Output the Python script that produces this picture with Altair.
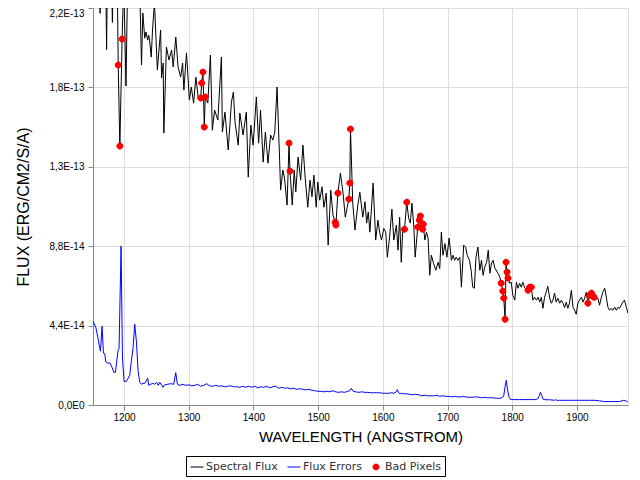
import altair as alt
import pandas as pd

# ---- data (flux values in units of 1e-14) ----
UNIT = 1e-14

FLUX_WL = [1152, 1156, 1162, 1163, 1164, 1167, 1172, 1173, 1174, 1178, 1181, 1182, 1183, 1187,
           1189.5, 1191, 1193.5, 1197, 1199.5, 1203, 1205.5, 1212, 1218, 1224, 1227, 1229, 1232,
           1234, 1236.5, 1238, 1239.5, 1242, 1244, 1247, 1251.5, 1256.5, 1258, 1260.5, 1261.5,
           1265.5, 1269.5, 1273.5, 1276, 1280, 1283.5, 1287.5, 1290.5, 1292.5, 1296.5, 1301,
           1304, 1307.5, 1311, 1314.5, 1318.5, 1320, 1322, 1324, 1325.5, 1329.5, 1333.5, 1336.5,
           1340, 1345, 1350.5, 1352, 1356, 1361, 1366, 1369, 1371.5, 1376.5, 1379, 1384, 1389,
           1392, 1396, 1399.5, 1404.5, 1408, 1411, 1415, 1418.5, 1422.5, 1426.5, 1430, 1433,
           1436.5, 1440.5, 1442, 1445.5, 1448, 1452, 1455, 1456.5, 1460, 1463, 1465.5, 1469,
           1473, 1476.5, 1480, 1484, 1487.5, 1490.5, 1493.5, 1497, 1499.5, 1502.5, 1506, 1509,
           1512.5, 1515.5, 1519.5, 1523, 1526.5, 1527.5, 1530.5, 1534.5, 1538.5, 1542, 1545,
           1547.5, 1549, 1550, 1553.5, 1557, 1561, 1564.5, 1569, 1572.5, 1575, 1577.5, 1580,
           1585, 1589, 1592.5, 1595, 1598, 1601.5, 1604.5, 1607, 1610.5, 1614, 1617, 1621,
           1623.5, 1626, 1628.5, 1631, 1633.5, 1637, 1640, 1642.5, 1645, 1648, 1650, 1654,
           1656.5, 1658, 1661.5, 1662.5, 1665, 1667.5, 1670, 1672.5, 1675, 1678.5, 1682,
           1685.5, 1688, 1690.5, 1693, 1696, 1699, 1702.5, 1706, 1708.5, 1711, 1713.5, 1716,
           1719, 1721.5, 1725, 1728, 1730.5, 1734, 1736.5, 1739, 1741.5, 1744, 1747, 1750,
           1752.5, 1755, 1757.5, 1760.5, 1763, 1765.5, 1768, 1770.5, 1773, 1778, 1780.5, 1783,
           1785.5, 1787, 1789, 1790.5, 1792, 1793.5, 1796, 1798.5, 1801, 1804, 1806.5, 1809,
           1811.5, 1814, 1816.5, 1819, 1822, 1824.5, 1827, 1829.5, 1832, 1834.5, 1837.5, 1840,
           1842.5, 1845, 1847.5, 1850, 1852.5, 1855, 1858, 1860.5, 1863, 1865.5, 1868, 1870.5,
           1873.5, 1876, 1878.5, 1881, 1883.5, 1886, 1888.5, 1891.5, 1894, 1896.5, 1899, 1901.5,
           1904, 1907, 1909.5, 1912, 1914.5, 1917, 1919.5, 1922.5, 1924.5, 1926.5, 1930, 1932.5,
           1935, 1937.5, 1940, 1943, 1945.5, 1948, 1950.5, 1953, 1955.5, 1958.5, 1961, 1963.5,
           1966, 1968.5, 1971, 1973.5, 1976.5, 1978.8]
FLUX_VAL = [23.5, 24.0, 23.0, 21.7, 23.5, 24.0, 23.0, 19.7, 23.0, 24.0, 23.0, 21.2, 23.5, 24.0,
            23.5, 18.84, 14.35, 20.28, 23.5, 17.68, 23.5, 24.5, 24.5, 23.5, 18.84, 21.72, 20.33,
            20.67, 20.22, 20.5, 20.22, 19.28, 20.78, 22.3, 18.56, 20.78, 18.12, 18.95, 15.07,
            19.84, 19.12, 19.67, 18.73, 20.39, 18.73, 18.17, 18.95, 17.45, 19.51, 16.90,
            17.62, 16.73, 18.17, 17.07, 17.01, 17.84, 18.45, 15.40, 17.07, 16.73, 19.39, 15.23,
            16.34, 15.79, 19.28, 15.12, 16.23, 14.13, 16.79, 17.34, 15.69, 14.40, 16.18, 14.96, 16.23,
            12.63, 15.51, 14.40, 17.07, 14.51, 16.34, 13.46, 15.12, 13.40, 14.96, 14.68, 15.12,
            17.62, 13.57, 11.91, 13.02, 12.57, 11.08, 14.51, 12.96, 11.08, 13.02, 11.81, 13.74,
            12.46, 14.40, 12.57, 10.96, 12.46, 11.54, 12.74, 10.96, 12.35, 11.35, 12.09, 10.96,
            11.74, 8.86, 11.91, 10.52, 10.13, 9.97, 11.74, 12.85, 11.74, 10.41, 10.96,
            11.41, 12.30, 15.29, 11.19, 9.69, 10.98, 11.79, 10.41, 11.26, 10.08, 10.70, 9.58,
            12.30, 9.14, 10.24, 9.58, 9.14, 9.78, 9.58, 8.19, 9.32, 10.85, 9.14, 9.97,
            8.58, 10.41, 7.91, 9.80, 9.74, 11.24, 10.34, 10.08, 11.19, 9.86, 8.19, 9.86,
            10.24, 10.47, 9.74, 10.02, 9.14, 9.58, 9.25, 7.19, 8.30, 7.84, 7.47,
            7.91, 7.56, 9.58, 8.30, 8.95, 8.19, 9.25, 8.02, 8.30, 8.02, 8.19, 8.02,
            8.19, 6.53, 8.86, 8.75, 8.30, 8.02, 7.47, 6.53, 6.47, 8.19, 8.75, 7.47,
            8.02, 7.19, 7.64, 7.91, 8.58, 7.30, 7.86, 8.02, 7.60, 7.30, 7.13, 6.75,
            6.31, 5.92, 4.75, 7.91, 7.36, 7.03, 6.75, 6.80, 6.08, 5.81, 6.80, 6.47,
            6.75, 6.53, 6.80, 6.53, 6.36, 6.36, 6.53, 6.53, 5.81, 5.97, 5.81, 5.97,
            5.71, 5.97, 5.36, 5.97, 6.25, 6.58, 5.92, 5.64, 5.81, 6.20, 5.70, 5.92,
            5.64, 5.81, 5.64, 5.40, 5.70, 5.36, 5.64, 6.36, 5.42, 5.25, 5.03, 5.64,
            5.81, 5.97, 5.70, 5.92, 6.25, 5.64, 6.08, 6.20, 6.03, 5.97, 5.87, 5.92,
            5.53, 5.92, 6.25, 6.47, 5.97, 5.42, 5.25, 5.36, 5.25, 5.42, 5.25, 5.42,
            5.36, 5.53, 5.70, 5.81, 5.42, 5.09]

ERR_WL = [1152.1, 1156.3, 1159.4, 1161.7, 1163.5, 1166.0, 1168.2, 1170.2, 1171.7, 1175.3, 1177.9,
          1181.5, 1184.1, 1186.7, 1188.3, 1190.7, 1192.3, 1195.4, 1197.5, 1200.0, 1203.7, 1206.2,
          1208.8, 1211.4, 1213.9, 1216.5, 1219.2, 1221.6, 1224.3, 1226.9, 1229.4, 1232.0, 1236.6,
          1238.2, 1241.3, 1244.4, 1247.4, 1250.5, 1252.8, 1255.2, 1258.3, 1260.3, 1262.9, 1267.5,
          1272.2, 1276.8, 1279.9, 1282.5, 1286.1, 1290.7, 1295.3, 1300.0, 1304.6, 1309.3, 1313.9,
          1318.5, 1323.2, 1327.8, 1332.4, 1337.1, 1341.7, 1346.3, 1351.0, 1355.6, 1360.2, 1364.9,
          1369.5, 1374.2, 1378.8, 1383.4, 1388.1, 1392.7, 1397.3, 1402.0, 1406.6, 1411.2, 1415.9,
          1420.5, 1425.1, 1429.8, 1434.4, 1439.1, 1443.7, 1448.3, 1453.0, 1457.6, 1462.2, 1466.9,
          1471.5, 1476.1, 1480.8, 1485.4, 1490.0, 1494.7, 1499.3, 1503.9, 1508.6, 1513.2, 1517.9,
          1522.5, 1527.1, 1531.8, 1536.4, 1541.0, 1545.7, 1548.8, 1551.4, 1554.2, 1558.1, 1562.7,
          1567.3, 1572.0, 1576.6, 1581.2, 1585.9, 1590.5, 1595.1, 1599.8, 1604.4, 1609.0, 1613.7,
          1616.8, 1619.9, 1622.5, 1624.5, 1626.8, 1629.1, 1632.2, 1636.9, 1641.5, 1646.1, 1650.8,
          1655.4, 1660.0, 1664.7, 1669.3, 1673.9, 1678.6, 1683.2, 1687.8, 1692.5, 1697.1, 1701.7,
          1706.4, 1711.0, 1715.6, 1720.3, 1724.9, 1729.5, 1734.2, 1738.8, 1743.4, 1748.1, 1752.7,
          1757.3, 1762.0, 1766.6, 1771.2, 1775.9, 1780.5, 1783.7, 1786.8, 1789.1, 1790.9, 1792.9,
          1795.2, 1797.6, 1803.7, 1811.5, 1819.2, 1826.9, 1834.7, 1839.3, 1842.4, 1843.5, 1845.5,
          1847.8, 1851.6, 1857.8, 1865.6, 1867.1, 1868.6, 1873.3, 1881.0, 1888.7, 1896.5, 1904.2,
          1911.9, 1919.7, 1927.4, 1935.1, 1942.8, 1950.6, 1958.3, 1966.0, 1972.2, 1975.3, 1978.4]
ERR_VAL = [4.64, 4.31, 3.75, 3.31, 2.98, 4.36, 2.87, 2.84, 2.40, 2.31, 2.34,
           2.09, 1.81, 1.81, 2.31, 3.03, 3.14, 8.80, 2.65, 1.31, 1.31, 1.48,
           1.65, 2.48, 3.14, 4.48, 3.48, 1.92, 1.26, 1.15, 1.20, 1.20, 1.48,
           1.09, 1.15, 1.20, 1.15, 1.26, 1.09, 1.26, 1.09, 0.98, 1.12, 1.15,
           1.18, 1.15, 1.79, 1.15, 1.09, 1.15, 1.09, 1.12, 1.06, 1.09, 1.15,
           1.04, 1.09, 1.18, 1.06, 1.04, 1.09, 1.04, 1.06, 1.01, 1.04, 1.06,
           1.01, 1.01, 0.98, 1.04, 0.98, 1.04, 0.98, 1.04, 0.95, 1.01, 0.98,
           1.04, 0.95, 1.01, 1.04, 0.93, 0.98, 0.93, 0.95, 0.90, 0.93, 0.87,
           0.90, 0.87, 0.84, 0.87, 0.82, 0.79, 0.76, 0.76, 0.73, 0.76, 0.73,
           0.79, 0.73, 0.70, 0.73, 0.70, 0.76, 0.79, 0.93, 0.76, 0.73, 0.70,
           0.73, 0.70, 0.70, 0.68, 0.68, 0.68, 0.68, 0.65, 0.65, 0.65, 0.68,
           0.65, 0.70, 0.85, 0.68, 0.62, 0.65, 0.62, 0.62, 0.59, 0.57, 0.59,
           0.57, 0.51, 0.54, 0.51, 0.51, 0.51, 0.54, 0.48, 0.51, 0.48, 0.48,
           0.45, 0.48, 0.45, 0.45, 0.48, 0.43, 0.43, 0.43, 0.45, 0.43, 0.40,
           0.43, 0.40, 0.40, 0.40, 0.37, 0.37, 0.40, 0.48, 1.04, 1.37, 0.82,
           0.43, 0.30, 0.30, 0.30, 0.30, 0.30, 0.30, 0.34, 0.54, 0.70, 0.54,
           0.32, 0.29, 0.29, 0.26, 0.31, 0.26, 0.26, 0.26, 0.26, 0.26, 0.26,
           0.26, 0.26, 0.26, 0.23, 0.19, 0.19, 0.19, 0.19, 0.26, 0.23, 0.18]

BAD_WL = [1191, 1193.5, 1197, 1318.5, 1320, 1322, 1324, 1325.5, 1455, 1456.5, 1526.5, 1527.5,
          1530.5, 1547.5, 1549, 1550, 1633.5, 1637, 1654, 1656.5, 1658, 1661.5, 1662.5, 1783,
          1785.5, 1787, 1789, 1790.5, 1792, 1793.5, 1824.5, 1827, 1829.5, 1917, 1919.5, 1922.5,
          1924.5, 1926.5]
BAD_VAL = [18.84, 14.35, 20.28, 17.01, 17.84, 18.45, 15.40, 17.07, 14.51, 12.96, 10.13, 9.97,
           11.74, 11.41, 12.30, 15.29, 9.74, 11.24, 9.86, 10.24, 10.47, 9.74, 10.02, 6.75,
           6.31, 5.92, 4.75, 7.91, 7.36, 7.03, 6.36, 6.53, 6.53, 5.64, 6.08, 6.20,
           6.03, 5.97]

SERIES = ["Spectral Flux", "Flux Errors", "Bad Pixels"]
COLORS = ["#000000", "#0000ff", "#ff0000"]


def ring(r):
    return f"M{-r},0A{r},{r},0,1,1,{r},0A{r},{r},0,1,1,{-r},0Z"


# solid-looking dot made of concentric outlines (legend symbols are stroked)
DOT = "".join(ring(r) for r in (0.46, 0.39, 0.31, 0.23, 0.16, 0.08))
SHAPES = ["stroke", "stroke", DOT]
X_TICKS = [1200, 1300, 1400, 1500, 1600, 1700, 1800, 1900]
Y_TICKS = [0, 4.4e-14, 8.8e-14, 1.32e-13, 1.76e-13, 2.2e-13]
X_DOMAIN = [1152, 1979]
Y_DOMAIN = [0, 2.2e-13]

lines_df = pd.DataFrame({
    "wavelength": FLUX_WL + ERR_WL,
    "flux": [v * UNIT for v in FLUX_VAL + ERR_VAL],
    "series": [SERIES[0]] * len(FLUX_WL) + [SERIES[1]] * len(ERR_WL),
})
bad_df = pd.DataFrame({
    "wavelength": BAD_WL,
    "flux": [v * UNIT for v in BAD_VAL],
    "series": [SERIES[2]] * len(BAD_WL),
})

FONT = "DejaVu Sans"

x_enc = alt.X("wavelength:Q",
              scale=alt.Scale(domain=X_DOMAIN, nice=False, zero=False),
              axis=alt.Axis(values=X_TICKS, format="d", title="WAVELENGTH (ANGSTROM)",
                            titleFontSize=15, titleFontWeight=400, labelPadding=2, titlePadding=7))
y_enc = alt.Y("flux:Q",
              scale=alt.Scale(domain=Y_DOMAIN, nice=False, zero=True),
              axis=alt.Axis(values=Y_TICKS, title="FLUX (ERG/CM2/S/A)",
                            labelExpr="replace(replace(replace(format(datum.value, '.1e'), '.', ','), 'e+', 'E'), 'e', 'E')",
                            labelOffset={"condition": {"test": "datum.value > 2.1e-13", "value": 5}, "value": 0},
                            titleFontSize=16, titleFontWeight=400, labelPadding=4, titlePadding=17))


def make_legend():
    return alt.Legend(
        orient="none", legendX=93, legendY=448, direction="horizontal", columns=3,
        title=None, labelFont=FONT, labelFontSize=11, labelColor="#333333",
        symbolSize=169, symbolStrokeWidth=1, symbolFillColor="#ff0000",
        strokeColor="#000000", fillColor="#ffffff", padding=4, columnPadding=7,
        labelOffset=2, cornerRadius=0, symbolOpacity=1,
    )


def color_enc():
    return alt.Color("series:N", scale=alt.Scale(domain=SERIES, range=COLORS),
                     legend=make_legend())


line_layer = alt.Chart(lines_df).mark_line(strokeWidth=1, clip=True).encode(
    x=x_enc, y=y_enc, color=color_enc(), detail="series:N")

bad_layer = alt.Chart(bad_df).mark_point(filled=False, fill="#ff0000", size=169, strokeWidth=1,
                                         opacity=1, clip=True).encode(
    x=x_enc, y=y_enc, color=color_enc(),
    shape=alt.Shape("series:N", scale=alt.Scale(domain=SERIES, range=SHAPES), legend=make_legend()))

chart = alt.layer(line_layer, bad_layer).properties(
    width=535, height=397,
    autosize=alt.AutoSizeParams(type="none"),
    padding={"left": 85, "top": 0, "right": 4, "bottom": 72},
).configure_view(
    stroke="#808080", strokeWidth=1
).configure_axis(
    offset=4, domainColor="#808080", tickColor="#808080", tickSize=4,
    labelFont=FONT, titleFont=FONT, labelFontSize=12, labelColor="#444444",
    titleColor="#444444", titleFontWeight=400,
    gridColor="#c4c4c4", gridDash=[2, 2], gridWidth=1,
).configure(background="#ffffff")

chart.save("out.html", embed_options={"renderer": "svg", "actions": False})
